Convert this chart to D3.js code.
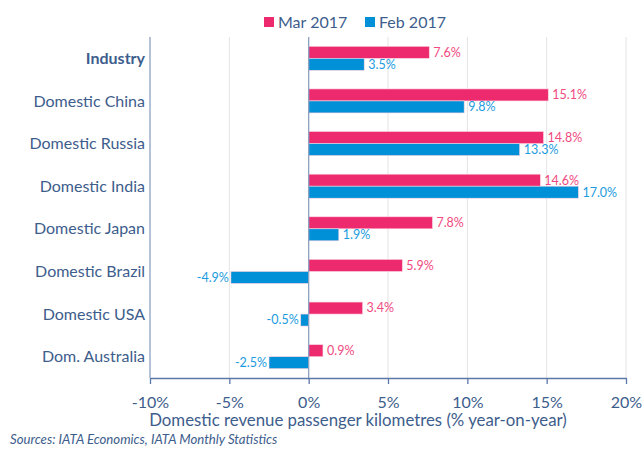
<!DOCTYPE html>
<html>
<head>
<meta charset="utf-8">
<script src="https://cdn.jsdelivr.net/npm/d3@7"></script>
<style>
  body { margin: 0; background: #fff; }
  svg text { font-family: Lato, "Open Sans", sans-serif; }
</style>
</head>
<body>
<div id="chart"></div>
<script>
const categories = ["Industry", "Domestic China", "Domestic Russia", "Domestic India",
  "Domestic Japan", "Domestic Brazil", "Domestic USA", "Dom. Australia"];
const seriesNames = ["Mar 2017", "Feb 2017"];
const mar2017 = [7.6, 15.1, 14.8, 14.6, 7.8, 5.9, 3.4, 0.9];
const feb2017 = [3.5, 9.8, 13.3, 17.0, 1.9, -4.9, -0.5, -2.5];
const xTicks = [-10, -5, 0, 5, 10, 15, 20];

const W = 642, H = 453;
const margin = { top: 37, right: 16, bottom: 75, left: 150 };
const width = W - margin.left - margin.right;
const height = H - margin.top - margin.bottom;

const barColor = ["#ee2a6e", "#0090d8"];
const labelColor = ["#f04a80", "#1c9be0"];
const textColor = "#3d5d8c";

const svg = d3.select("#chart").append("svg")
  .attr("width", W).attr("height", H);
const g = svg.append("g").attr("transform", `translate(${margin.left},${margin.top})`);

const x = d3.scaleLinear().domain([-10, 20]).range([0, width]);
const y = d3.scaleBand().domain(categories).range([0, height]);
const inner = d3.scaleBand().domain(seriesNames).range([y.bandwidth() / 2 - 12, y.bandwidth() / 2 + 12]);

// grid
g.selectAll("line.grid").data(xTicks.filter(d => d !== -10 && d !== 0))
  .enter().append("line")
  .attr("x1", d => x(d)).attr("x2", d => x(d))
  .attr("y1", 0).attr("y2", height)
  .attr("stroke", "#e3e3e3").attr("stroke-width", 1);

// bars
const data = [];
categories.forEach((c, i) => {
  data.push({ cat: c, s: 0, v: mar2017[i] });
  data.push({ cat: c, s: 1, v: feb2017[i] });
});

g.selectAll("rect.bar").data(data).enter().append("rect")
  .attr("x", d => x(Math.min(0, d.v)))
  .attr("width", d => Math.abs(x(d.v) - x(0)))
  .attr("y", d => y(d.cat) + inner(seriesNames[d.s]))
  .attr("height", inner.bandwidth())
  .attr("fill", d => barColor[d.s])
  .attr("stroke", "#fbd3e0").attr("stroke-width", 0.6);

g.selectAll("text.val").data(data).enter().append("text")
  .attr("x", d => d.v >= 0 ? x(d.v) + 4 : x(d.v) - 2)
  .attr("y", d => y(d.cat) + inner(seriesNames[d.s]) + inner.bandwidth() / 2)
  .attr("dy", "0.35em")
  .attr("text-anchor", d => d.v >= 0 ? "start" : "end")
  .attr("font-size", 12.5)
  .attr("fill", d => labelColor[d.s])
  .text(d => d.v.toFixed(1) + "%");

// zero line and left axis line
g.append("line").attr("x1", x(0)).attr("x2", x(0)).attr("y1", 0).attr("y2", height)
  .attr("stroke", "#8ea2c0").attr("stroke-width", 1.3);
g.append("line").attr("x1", 0).attr("x2", 0).attr("y1", 0).attr("y2", height)
  .attr("stroke", "#8ea2c0").attr("stroke-width", 1.3);

// category labels
g.selectAll("text.cat").data(categories).enter().append("text")
  .attr("x", -5)
  .attr("y", d => y(d) + y.bandwidth() / 2)
  .attr("dy", "0.35em")
  .attr("text-anchor", "end")
  .attr("font-size", 16)
  .attr("font-weight", (d, i) => i === 0 ? "bold" : "normal")
  .attr("fill", textColor)
  .text(d => d);

// x axis
const xAxis = g.append("g").attr("transform", `translate(0,${height})`)
  .call(d3.axisBottom(x).tickValues(xTicks).tickSize(6).tickSizeOuter(0).tickFormat(d => d + "%"));
xAxis.select(".domain").attr("stroke", "#5b79a8").attr("stroke-width", 1.3);
xAxis.selectAll(".tick line").attr("stroke", "#5b79a8").attr("stroke-width", 1.3);
xAxis.selectAll(".tick text").attr("fill", textColor).attr("font-size", 16)
  .attr("font-family", "Lato, sans-serif").attr("dy", "1.3em");

svg.append("text")
  .attr("x", 358).attr("y", 426)
  .attr("text-anchor", "middle").attr("font-size", 16.8).attr("fill", textColor)
  .text("Domestic revenue passenger kilometres (% year-on-year)");

svg.append("text")
  .attr("x", 10).attr("y", 444)
  .attr("font-size", 13.2).attr("font-style", "italic").attr("fill", textColor)
  .text("Sources: IATA Economics, IATA Monthly Statistics");

// legend
const legend = svg.append("g").attr("transform", "translate(264,22)");
const lx = [0, 101];
seriesNames.forEach((s, i) => {
  legend.append("rect").attr("x", lx[i]).attr("y", -5).attr("width", 10).attr("height", 10)
    .attr("fill", barColor[i]);
  legend.append("text").attr("x", lx[i] + 14).attr("y", 0).attr("dy", "0.35em")
    .attr("font-size", 16).attr("fill", textColor).text(s);
});
</script>
</body>
</html>
